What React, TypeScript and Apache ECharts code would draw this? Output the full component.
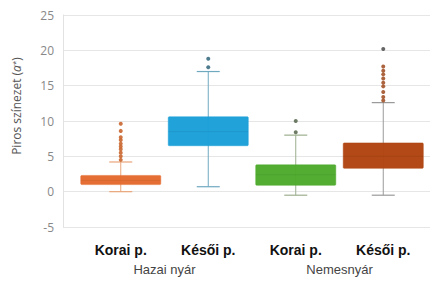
import React, { useEffect, useRef } from "react";
import * as echarts from "echarts";

const categories = ["Korai p.", "Késői p.", "Korai p.", "Késői p."];
const groups = ["Hazai nyár", "Nemesnyár"];
const yTicksMin = -5;
const yTicksMax = 25;
const yInterval = 5;

const whiskerLow = [0, 0.7, -0.5, -0.5];
const q1 = [1.0, 6.5, 0.9, 3.3];
const median = [1.6, 8.5, 2.4, 5.0];
const q3 = [2.3, 10.6, 3.8, 6.9];
const whiskerHigh = [4.2, 17.0, 8.0, 12.6];

const outliers0 = [4.5, 5.0, 5.5, 6.0, 6.4, 6.8, 7.3, 7.7, 8.6, 9.6];
const outliers1 = [17.6, 18.8];
const outliers2 = [8.4, 10.0];
const outliers3 = [12.9, 13.4, 14.1, 14.9, 15.4, 16.0, 16.6, 17.1, 17.7, 20.2];

const boxColors = ["#E4692D", "#1A9FD8", "#4CAA2B", "#AF430F"];
const whiskerColors = ["#E9A57A", "#6FA9C0", "#9DAE8E", "#9A9A9A"];
const outlierColors = ["#C9662F", "#3B6E82", "#5E6E55", "#A3532A"];

export default function App() {
  const ref = useRef<HTMLDivElement>(null);
  useEffect(() => {
    if (!ref.current) return;
    const chart = echarts.init(ref.current, null, { renderer: "svg" });
    const boxData = categories.map((_, i) => [i, whiskerLow[i], q1[i], median[i], q3[i], whiskerHigh[i]]);
    const outlierLists = [outliers0, outliers1, outliers2, outliers3];
    const scatterData: any[] = [];
    outlierLists.forEach((list, i) => {
      list.forEach((v, k) => {
        const top = k === list.length - 1 && i === 3;
        scatterData.push({
          value: [i, v],
          itemStyle: { color: top ? "#555" : outlierColors[i] },
        });
      });
    });
    const option: any = {
      animation: false,
      backgroundColor: "#ffffff",
      grid: [
        { left: 63, right: 10, top: 15, bottom: 54 },
        { left: 77, right: 13, top: 15, bottom: 54 },
      ],
      xAxis: [
        { type: "category", gridIndex: 0, show: false, data: [""] },
        {
          type: "category",
          gridIndex: 1,
          data: categories,
          axisLine: { show: false },
          axisTick: { show: false },
          axisLabel: {
            margin: 16,
            color: "#111",
            fontFamily: "Liberation Sans",
            fontWeight: "bold",
            fontSize: 14,
          },
        },
        {
          type: "category",
          gridIndex: 1,
          position: "bottom",
          offset: 20,
          data: groups,
          axisLine: { show: false },
          axisTick: { show: false },
          axisLabel: {
            margin: 16,
            color: "#444",
            fontFamily: "Liberation Sans",
            fontSize: 13,
          },
        },
      ],
      yAxis: [
        {
          type: "value",
          gridIndex: 0,
          min: yTicksMin,
          max: yTicksMax,
          interval: yInterval,
          name: "Piros színezet ({i|a}{s|*})",
          nameLocation: "middle",
          nameGap: 40,
          nameTextStyle: {
            color: "#555",
            fontFamily: "Open Sans",
            fontSize: 12,
            padding: [0, 0, 0, 30],
            rich: {
              i: { fontStyle: "italic", color: "#555", fontFamily: "Open Sans", fontSize: 12 },
              s: { color: "#555", fontFamily: "Open Sans", fontSize: 8, verticalAlign: "top", padding: [0, 0, 5, 0] },
            },
          },
          axisLine: { show: true, lineStyle: { color: "#e2e2e2" } },
          axisTick: { show: false },
          axisLabel: { color: "#888", fontFamily: "Open Sans", fontSize: 12, margin: 9 },
          splitLine: { lineStyle: { color: "#e6e6e6" } },
        },
        {
          type: "value",
          gridIndex: 1,
          min: yTicksMin,
          max: yTicksMax,
          interval: yInterval,
          show: false,
          splitLine: { show: false },
        },
      ],
      series: [
        {
          type: "custom",
          xAxisIndex: 1,
          yAxisIndex: 1,
          data: boxData,
          encode: { x: 0, y: [1, 2, 3, 4, 5] },
          renderItem: (params: any, api: any) => {
            const idx = params.dataIndex;
            const x = api.value(0);
            const pLow = api.coord([x, api.value(1)]);
            const pQ1 = api.coord([x, api.value(2)]);
            const pMed = api.coord([x, api.value(3)]);
            const pQ3 = api.coord([x, api.value(4)]);
            const pHigh = api.coord([x, api.value(5)]);
            const band = api.size([1, 0])[0];
            const bw = band * 0.915;
            const cw = 23;
            const cx = pLow[0];
            const wc = whiskerColors[idx];
            return {
              type: "group",
              children: [
                { type: "line", shape: { x1: cx, y1: pLow[1], x2: cx, y2: pHigh[1] }, style: { stroke: wc, lineWidth: 1 } },
                { type: "line", shape: { x1: cx - cw / 2, y1: pLow[1], x2: cx + cw / 2, y2: pLow[1] }, style: { stroke: wc, lineWidth: 1.2 } },
                { type: "line", shape: { x1: cx - cw / 2, y1: pHigh[1], x2: cx + cw / 2, y2: pHigh[1] }, style: { stroke: wc, lineWidth: 1.2 } },
                {
                  type: "rect",
                  shape: { x: cx - bw / 2, y: pQ3[1], width: bw, height: pQ1[1] - pQ3[1], r: 1 },
                  style: { fill: boxColors[idx], stroke: boxColors[idx], lineWidth: 0.5, opacity: 0.97 },
                },
                { type: "line", shape: { x1: cx - bw / 2, y1: pMed[1], x2: cx + bw / 2, y2: pMed[1] }, style: { stroke: "rgba(0,0,0,0.06)", lineWidth: 1 } },
              ],
            };
          },
        },
        {
          type: "scatter",
          xAxisIndex: 1,
          yAxisIndex: 1,
          symbolSize: 4,
          data: scatterData,
          itemStyle: { opacity: 0.9 },
        },
      ],
    };
    chart.setOption(option);
    return () => chart.dispose();
  }, []);
  return <div ref={ref} style={{ width: 440, height: 281, position: "absolute", left: 0, top: 0 }} />;
}
